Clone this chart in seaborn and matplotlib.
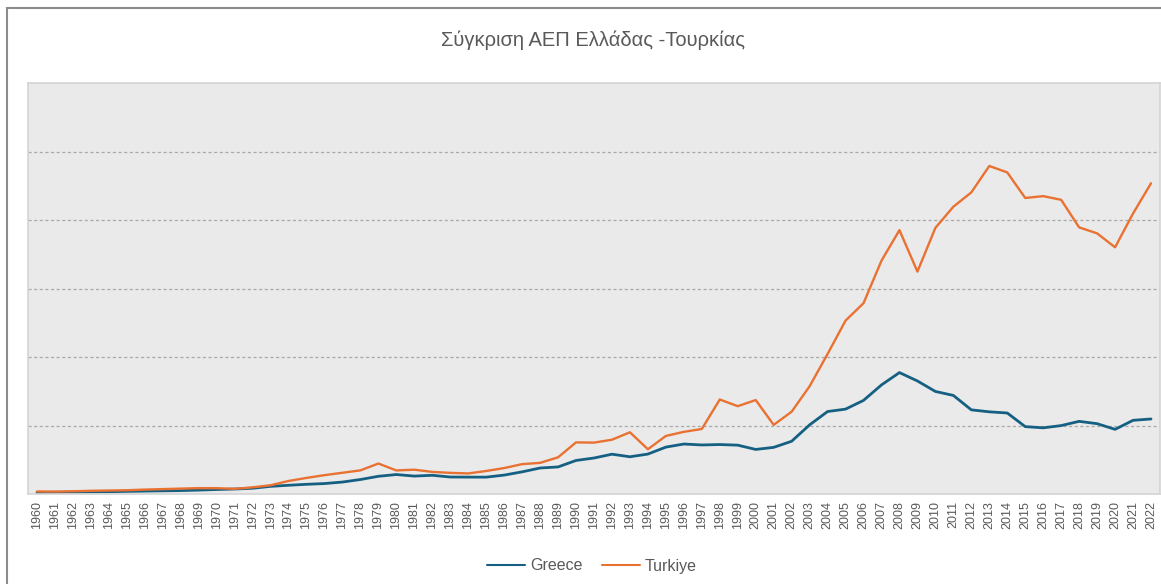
import pandas as pd
import matplotlib.pyplot as plt
import matplotlib.patches as patches
import seaborn as sns

years = list(range(1960, 2023))

# GDP, billions of current US$
greece = [4.4, 5.0, 5.3, 6.0, 6.8, 7.7, 8.5, 9.3, 10.0, 11.4,
          13.1, 14.5, 16.8, 22.3, 25.5, 28.3, 30.5, 34.9, 42.3, 51.7,
          56.8, 52.3, 54.6, 49.6, 49.3, 49.2, 55.2, 64.7, 75.9, 79.0,
          97.9, 105.1, 116.2, 108.7, 116.6, 136.9, 145.9, 143.2, 144.4, 142.6,
          130.1, 136.2, 154.0, 201.9, 240.8, 247.8, 273.3, 318.5, 354.5, 330.0,
          299.4, 287.8, 245.7, 239.9, 236.5, 196.7, 193.2, 199.8, 212.1, 205.3,
          188.8, 215.1, 219.1]
turkiye = [7.5, 7.0, 8.0, 9.3, 10.1, 11.0, 12.9, 14.3, 15.7, 17.1,
           17.0, 15.0, 19.5, 25.5, 38.0, 47.0, 55.0, 62.0, 69.0, 89.0,
           68.8, 71.0, 64.5, 61.7, 60.0, 67.2, 75.7, 87.2, 90.9, 107.1,
           150.7, 150.0, 158.5, 180.2, 130.7, 169.5, 181.5, 189.8, 275.9, 256.4,
           274.3, 201.8, 240.3, 314.6, 408.9, 506.3, 557.1, 681.3, 770.5, 649.3,
           777.0, 838.8, 880.6, 957.8, 938.9, 864.3, 869.7, 858.9, 778.5, 761.0,
           720.3, 819.0, 907.1]

df = pd.DataFrame({'year': years * 2,
                   'gdp': greece + turkiye,
                   'country': ['Greece'] * len(years) + ['Turkiye'] * len(years)})

sns.set_style('white')
plt.rcParams['font.family'] = ['Liberation Sans', 'DejaVu Sans']

fig = plt.figure(figsize=(11.61, 5.84), dpi=100)
# outer chart frame (only top and left edges fall inside the image)
fig.patches.append(patches.Rectangle((7 / 1161, -0.2), 1.2, 1.2 - 8 / 584, transform=fig.transFigure,
                                     fill=False, edgecolor='#8c8c8c', linewidth=1.5))
ax = fig.add_axes([28 / 1161, 1 - 494 / 584, 1132 / 1161, 411 / 584])
ax.set_facecolor('#eaeaea')

sns.lineplot(data=df, x='year', y='gdp', hue='country', ax=ax,
             palette={'Greece': '#156082', 'Turkiye': '#e97132'})
ax.lines[0].set_linewidth(2.0)
ax.lines[1].set_linewidth(1.7)

ax.set_xlim(1959.5, 2022.5)
ax.set_ylim(0, 1200)
ax.set_yticks([200, 400, 600, 800, 1000])
ax.set_yticklabels([])
ax.yaxis.grid(True, linestyle=(0, (2.5, 2)), color='#a9a9a9', linewidth=0.9)
ax.set_axisbelow(True)
ax.set_xticks(years)
ax.set_xticklabels([str(y) for y in years], rotation=90, fontsize=9, color='#595959')
ax.tick_params(axis='both', length=0, pad=5)
ax.set_xlabel('')
ax.set_ylabel('')
for s in ax.spines.values():
    s.set_color('#d4d4d4')
    s.set_linewidth(1.2)

ax.legend(loc='center', bbox_to_anchor=(0.51, 1 - 566 / 584), bbox_transform=fig.transFigure,
          ncol=2, frameon=False, fontsize=11.5, labelcolor='#595959',
          handlelength=2.4, columnspacing=1.2, handletextpad=0.3)

fig.text(0.511, 1 - 40 / 584, 'Σύγκριση ΑΕΠ Ελλάδας -Τουρκίας', ha='center', va='center',
         fontsize=14.5, color='#595959')

plt.savefig('out.png', dpi=100)
